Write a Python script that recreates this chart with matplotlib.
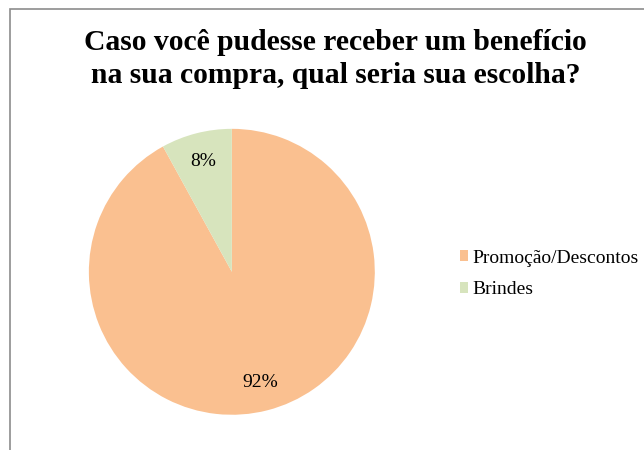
import matplotlib.pyplot as plt
from matplotlib.patches import Rectangle

# Data
labels = ['Promoção/Descontos', 'Brindes']
values = [92, 8]
colors = ['#FAC090', '#D7E4BD']

plt.rcParams['font.family'] = ['Liberation Serif', 'DejaVu Serif']

fig = plt.figure(figsize=(6.44, 4.5), dpi=100)

# Outer frame (cut off at right and bottom like the reference)
fig.patches.append(Rectangle((10 / 644, -0.1), 1.2, 1 - 9 / 450 + 0.1,
                             transform=fig.transFigure, fill=False,
                             edgecolor='#8c8c8c', linewidth=1.2))

fig.text(0.521, 1 - 83 / 450, 'Caso você pudesse receber um benefício\nna sua compra, qual seria sua escolha?',
         ha='center', va='baseline', fontsize=21.3, fontweight='bold', linespacing=1.28,
         multialignment='center')

ax = fig.add_axes([0.138, 0.078, 0.444, 0.636])
wedges, texts, autotexts = ax.pie(values, colors=colors, startangle=90, counterclock=False,
                                  autopct='%1.0f%%', pctdistance=0.8,
                                  textprops={'fontsize': 14, 'color': 'black'},
                                  wedgeprops={'linewidth': 0})
ax.set_aspect('equal')
ax.set_xlim(-1, 1)
ax.set_ylim(-1, 1)

fig.legend(wedges, labels, loc='center left', bbox_to_anchor=(0.714, 0.391),
           frameon=False, fontsize=14, handlelength=0.42, handleheight=0.5,
           handletextpad=0.25, labelspacing=0.75, borderaxespad=0, borderpad=0)

fig.savefig('out.png', dpi=100)
